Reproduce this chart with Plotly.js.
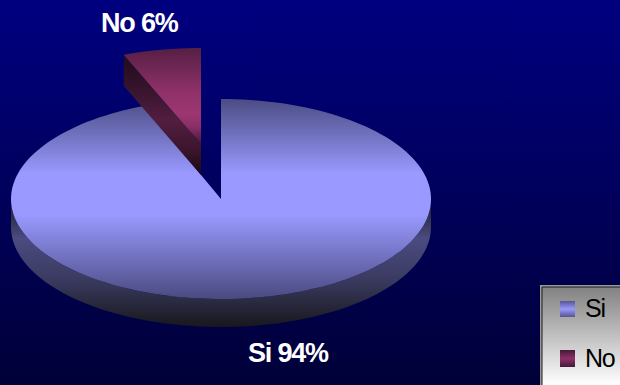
<!DOCTYPE html>
<html>
<head>
<meta charset="utf-8">
<script src="https://cdn.plot.ly/plotly-3.0.1.min.js"></script>
<style>
html,body{margin:0;padding:0;background:#000038;overflow:hidden}
#chart{width:620px;height:385px;background:linear-gradient(180deg,#000080 0%,#000038 100%)}
.annotation-text{letter-spacing:-1.2px}
</style>
</head>
<body>
<div id="chart"></div>
<script>
// Survey split
const categories = ['Si', 'No'];
const values = [94, 6];

// Pie geometry in pixel-like axis units
const center = {x: 221, y: 199};
const rx = 210, ry = 100, depth = 28;
const explode = {dx: -20, dy: -55, ry: 96, depth: 31};

const total = values.reduce((a, b) => a + b, 0);
const siSweep = 360 * values[0] / total;

// Point on an ellipse, angle measured clockwise from 12 o'clock
function pt(c, a, r) {
  const t = a * Math.PI / 180;
  return [c.x + rx * Math.sin(t), c.y - r * Math.cos(t)];
}
function arc(c, a0, a1, r) {
  const n = Math.max(2, Math.ceil(Math.abs(a1 - a0) / 2));
  const out = [];
  for (let i = 0; i <= n; i++) out.push(pt(c, a0 + (a1 - a0) * i / n, r));
  return out;
}
function poly(points, stops, start, stop) {
  return {
    type: 'scatter', mode: 'none', fill: 'toself', hoverinfo: 'skip', showlegend: false,
    x: points.map(p => p[0]), y: points.map(p => p[1]),
    fillgradient: {type: 'vertical', colorscale: stops, start: start, stop: stop}
  };
}
function shift(points, dy) { return points.map(p => [p[0], p[1] + dy]); }
function rect(x, y, w, h) { return [[x, y], [x + w, y], [x + w, y + h], [x, y + h], [x, y]]; }

const traces = [];

// "Si" wall: visible front half of the rim
const frontTop = arc(center, 90, 270, ry);
traces.push(poly(frontTop.concat(shift(frontTop, depth).reverse()),
  [[0, '#1f1f2c'], [0.28, '#4b4b80'], [0.62, '#3a3a60'], [1, '#17171c']],
  center.y + 5, center.y + ry + depth));

// "Si" top face
traces.push(poly([[center.x, center.y]].concat(arc(center, 0, siSweep, ry)),
  [[0, '#4b4c83'], [0.37, '#9999ff'], [0.58, '#9999ff'], [1, '#4a4a80']],
  center.y - ry, center.y + ry));

// "No" exploded slice
const noCenter = {x: center.x + explode.dx, y: center.y + explode.dy};
const noArc = arc(noCenter, siSweep, 360, explode.ry);
const wallStart = noArc[0];
traces.push(poly([wallStart, [noCenter.x, noCenter.y], [noCenter.x, noCenter.y + explode.depth],
                  [wallStart[0], wallStart[1] + explode.depth]],
  [[0, '#1f0c1a'], [0.25, '#33132a'], [0.55, '#521e40'], [0.8, '#3a152c'], [1, '#180810']],
  wallStart[1], noCenter.y + explode.depth));
traces.push(poly([[noCenter.x, noCenter.y]].concat(noArc),
  [[0, '#551f43'], [0.45, '#8f3169'], [0.68, '#9c3671'], [0.82, '#8a2f66'], [1, '#451838']],
  noCenter.y - explode.ry, noCenter.y));

// Legend panel with a light outer edge and a dark inner edge
const legend = {x: 540, y: 285, w: 90, h: 110};
const outer = poly(rect(legend.x, legend.y, legend.w, legend.h), [[0, '#9a9a9a'], [1, '#9a9a9a']], legend.y, 385);
const panel = poly(rect(legend.x + 2, legend.y + 2, legend.w, legend.h), [[0, '#7f7f7f'], [1, '#ffffff']], legend.y, 385);
panel.mode = 'lines';
panel.line = {color: '#1c1c1c', width: 1};
traces.push(outer, panel);

// Legend swatches
const swatchX = 560, swatchY = [301, 350], swatchW = 15, swatchH = [16, 17];
const swatchStops = [
  [[0, '#55558f'], [0.5, '#9999ff'], [1, '#55558f']],
  [[0, '#451838'], [0.5, '#8c3068'], [1, '#451838']]
];
categories.forEach((c, i) => traces.push(
  poly(rect(swatchX, swatchY[i], swatchW, swatchH[i]), swatchStops[i], swatchY[i], swatchY[i] + swatchH[i])));

const face = 'Liberation Sans, Arial, sans-serif';
function label(text, x, y, size, color, weight) {
  return {text: text, x: x, y: y, xref: 'x', yref: 'y', showarrow: false, xanchor: 'left', yanchor: 'middle',
          font: {family: face, size: size, color: color, weight: weight}};
}
const annotations = [
  label(categories[1] + ' ' + values[1] + '%', 99, 23, 27, '#ffffff', 700),
  label(categories[0] + ' ' + values[0] + '%', 246, 353, 27, '#ffffff', 700),
  label(categories[0], 583, 308, 25, '#000000', 400),
  label(categories[1], 583, 358, 25, '#000000', 400)
];

Plotly.newPlot('chart', traces, {
  width: 620, height: 385, margin: {l: 0, r: 0, t: 0, b: 0},
  paper_bgcolor: 'rgba(0,0,0,0)', plot_bgcolor: 'rgba(0,0,0,0)',
  xaxis: {range: [0, 620], visible: false, fixedrange: true},
  yaxis: {range: [385, 0], visible: false, fixedrange: true},
  annotations: annotations, showlegend: false
}, {displayModeBar: false, staticPlot: true});
</script>
</body>
</html>
